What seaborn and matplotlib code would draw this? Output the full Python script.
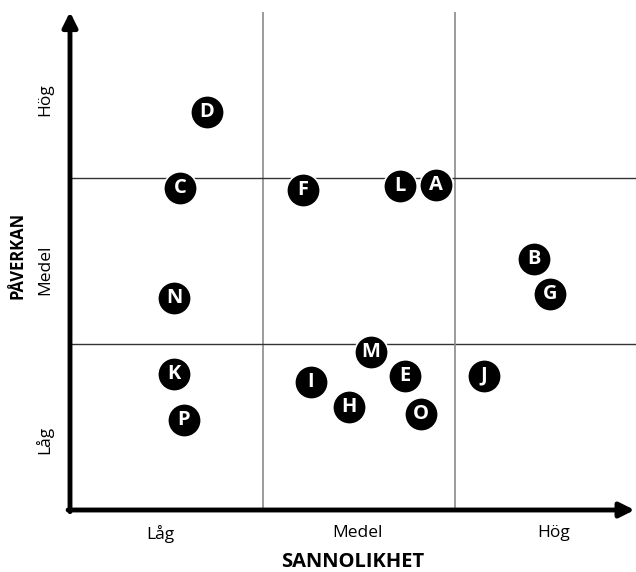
import pandas as pd
import seaborn as sns
import matplotlib.pyplot as plt

# Riskmatris: sannolikhet (x) mot påverkan (y), skala 0-3
risker = ['D', 'C', 'F', 'L', 'A', 'B', 'G', 'N', 'M', 'K', 'E', 'J', 'I', 'H', 'O', 'P']
sannolikhet = [0.71, 0.57, 1.21, 1.71, 1.90, 2.41, 2.49, 0.54, 1.56, 0.54, 1.74, 2.15, 1.25, 1.45, 1.82, 0.59]
paverkan = [2.40, 1.94, 1.93, 1.95, 1.96, 1.51, 1.30, 1.28, 0.95, 0.82, 0.81, 0.81, 0.77, 0.62, 0.58, 0.54]

nivaer = ['Låg', 'Medel', 'Hög']
x_ticks = [0.47, 1.49, 2.51]
y_ticks = [0.42, 1.45, 2.47]

datos = pd.DataFrame({'Risk': risker, 'Sannolikhet': sannolikhet, 'Paverkan': paverkan})

sns.set_theme(style='white')
plt.rcParams['font.family'] = ['Open Sans', 'DejaVu Sans']
plt.rcParams['text.color'] = 'black'

fig = plt.figure(figsize=(6.36, 5.72), dpi=100)
ax = fig.add_axes([70 / 636, 62 / 572, 566 / 636, 498 / 572])
ax.set_xlim(0, 566 / 192.7)
ax.set_ylim(0, 3)

# Rutnät
for v in [1, 2]:
    ax.axvline(v, color='#8a8a8a', lw=1.2, zorder=1)
    ax.axhline(v, color='#333333', lw=1.0, zorder=1)

sns.scatterplot(data=datos, x='Sannolikhet', y='Paverkan', s=580, color='black',
                edgecolor='white', linewidth=1.2, ax=ax, zorder=3, legend=False)
for _, fila in datos.iterrows():
    ax.text(fila['Sannolikhet'], fila['Paverkan'], fila['Risk'], color='white',
            fontsize=14.5, fontweight='bold', ha='center', va='center', zorder=4)

# Axlar med pilar
for s in ax.spines.values():
    s.set_visible(False)
ax.annotate('', xy=(0, 3.0), xytext=(0, -0.01), xycoords='data',
            arrowprops=dict(arrowstyle='-|>', lw=3.5, color='black', mutation_scale=22,
                            shrinkA=0, shrinkB=0), annotation_clip=False)
ax.annotate('', xy=(2.93, 0), xytext=(-0.01, 0), xycoords='data',
            arrowprops=dict(arrowstyle='-|>', lw=3.5, color='black', mutation_scale=22,
                            shrinkA=0, shrinkB=0), annotation_clip=False)

ax.set_xticks(x_ticks)
ax.set_xticklabels(nivaer, fontsize=12.5, color='black')
ax.set_yticks(y_ticks)
ax.set_yticklabels(nivaer, fontsize=12.5, color='black', rotation=90, va='center')
ax.tick_params(length=0)
ax.tick_params(axis='x', pad=11)
ax.tick_params(axis='y', pad=12)

ax.set_xlabel('SANNOLIKHET', fontsize=14.5, fontweight='bold', color='black', labelpad=6)
ax.set_ylabel('PÅVERKAN', fontsize=12, fontweight='bold', color='black')
ax.yaxis.set_label_coords(-0.076, 0.512)

plt.savefig('out.png', dpi=100)
plt.close()
